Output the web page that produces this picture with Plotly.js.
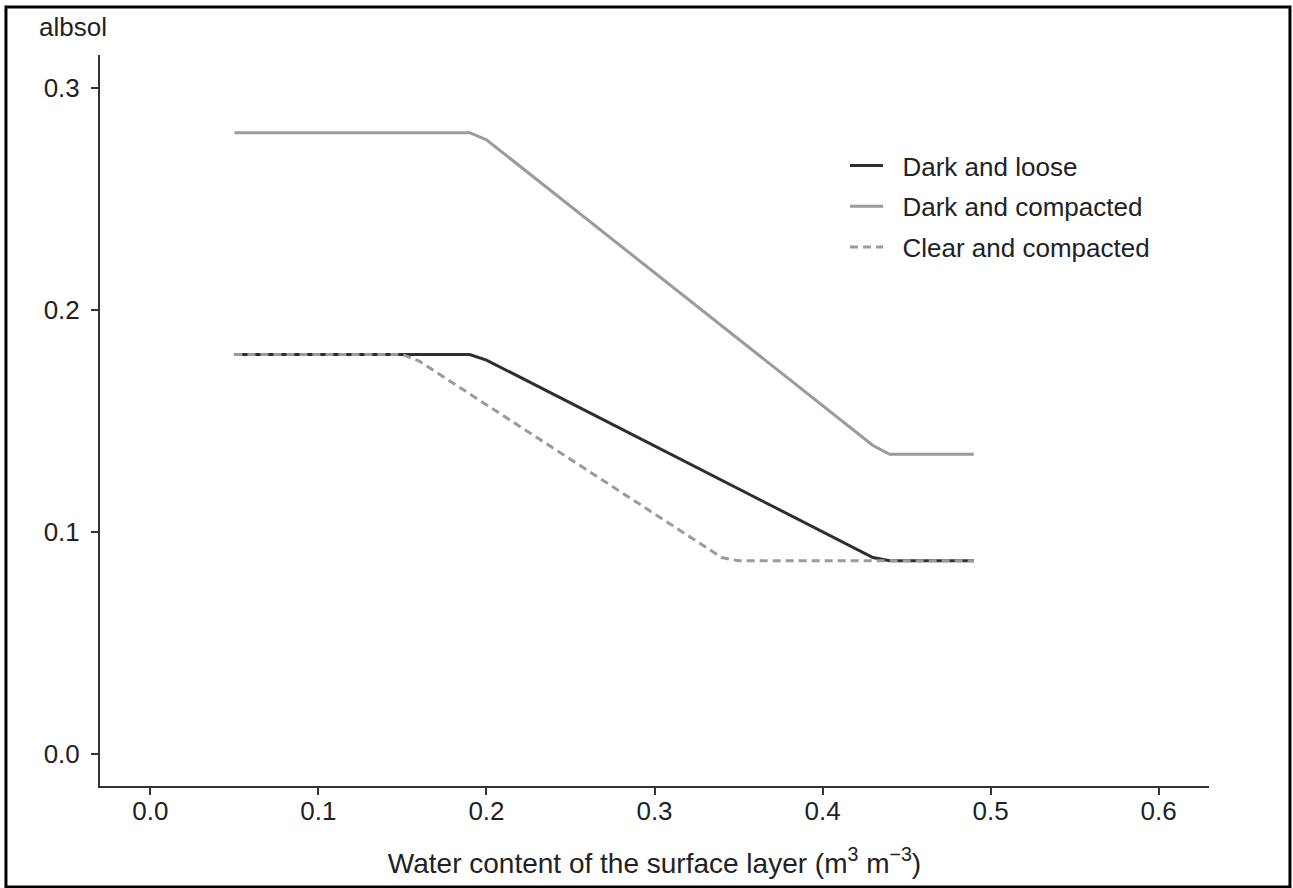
<!DOCTYPE html>
<html>
<head>
<meta charset="utf-8">
<script src="https://cdn.plot.ly/plotly-3.0.1.min.js"></script>
<style>html,body{margin:0;padding:0;background:#fff;}#chart{width:1293px;height:888px;}</style>
</head>
<body>
<div id="chart"></div>
<script>
// Data
const seriesNames = ["Dark and loose", "Dark and compacted", "Clear and compacted"];

const darkLooseX = [0.05, 0.19, 0.20, 0.43, 0.44, 0.49];
const darkLooseY = [0.180, 0.180, 0.1775, 0.0885, 0.087, 0.087];

const darkCompactedX = [0.05, 0.19, 0.20, 0.43, 0.44, 0.49];
const darkCompactedY = [0.280, 0.280, 0.2768, 0.139, 0.135, 0.135];

const clearCompactedX = [0.05, 0.15, 0.16, 0.34, 0.35, 0.49];
const clearCompactedY = [0.180, 0.180, 0.177, 0.0885, 0.087, 0.087];

const xTicks = [0.0, 0.1, 0.2, 0.3, 0.4, 0.5, 0.6];
const yTicks = [0.0, 0.1, 0.2, 0.3];

const FONT = "Liberation Sans, Arial, Helvetica, sans-serif";
const TXT = "#222222";
const FS = 26;
const PAD = "\u00a0\u00a0";

const traces = [
  {x: darkLooseX, y: darkLooseY, name: PAD + seriesNames[0], legendgroup: "a", mode: "lines",
   line: {color: "#2e2e2e", width: 3}},
  {x: darkCompactedX, y: darkCompactedY, name: PAD + seriesNames[1], legendgroup: "b", mode: "lines",
   line: {color: "#9b9b9b", width: 3}},
  {x: clearCompactedX, y: clearCompactedY, name: PAD + seriesNames[2], legendgroup: "c", mode: "lines",
   line: {color: "#9b9b9b", width: 3, dash: "8px,5px"}}
];

const axisCommon = {
  showline: true, linecolor: "#333", linewidth: 2,
  ticks: "outside", ticklen: 7, tickwidth: 2, tickcolor: "#333",
  showgrid: false, zeroline: false,
  tickfont: {family: FONT, size: FS, color: TXT},
  tickformat: ".1f"
};

const layout = {
  width: 1293, height: 888,
  paper_bgcolor: "#fff", plot_bgcolor: "#fff",
  margin: {l: 100, r: 84, t: 55, b: 102},
  showlegend: true,
  legend: {
    x: 0.6718, y: 0.881, xanchor: "left", yanchor: "top",
    font: {family: FONT, size: FS, color: TXT},
    itemwidth: 33, tracegroupgap: 4, bgcolor: "rgba(0,0,0,0)"
  },
  xaxis: Object.assign({}, axisCommon, {
    range: [-0.03, 0.63], tickvals: xTicks, ticklabelstandoff: -6,
    title: {text: "Water content of the surface layer (m<sup>3</sup> m<sup>\u22123</sup>)",
            font: {family: FONT, size: 28, color: TXT}, standoff: 28}
  }),
  yaxis: Object.assign({}, axisCommon, {
    range: [-0.0145, 0.315], tickvals: yTicks, ticklabelstandoff: 6
  }),
  annotations: [{
    text: "albsol", xref: "paper", yref: "paper",
    x: -0.024, y: 1.038, xanchor: "center", yanchor: "middle",
    showarrow: false, font: {family: FONT, size: FS, color: TXT}
  }],
  shapes: [{
    type: "rect", xref: "paper", yref: "paper",
    x0: -0.0848, x1: 1.0730, y0: -0.1382, y1: 1.0657,
    line: {color: "#000", width: 3}, fillcolor: "rgba(0,0,0,0)"
  }]
};

Plotly.newPlot("chart", traces, layout, {displayModeBar: false, staticPlot: true});
</script>
</body>
</html>
